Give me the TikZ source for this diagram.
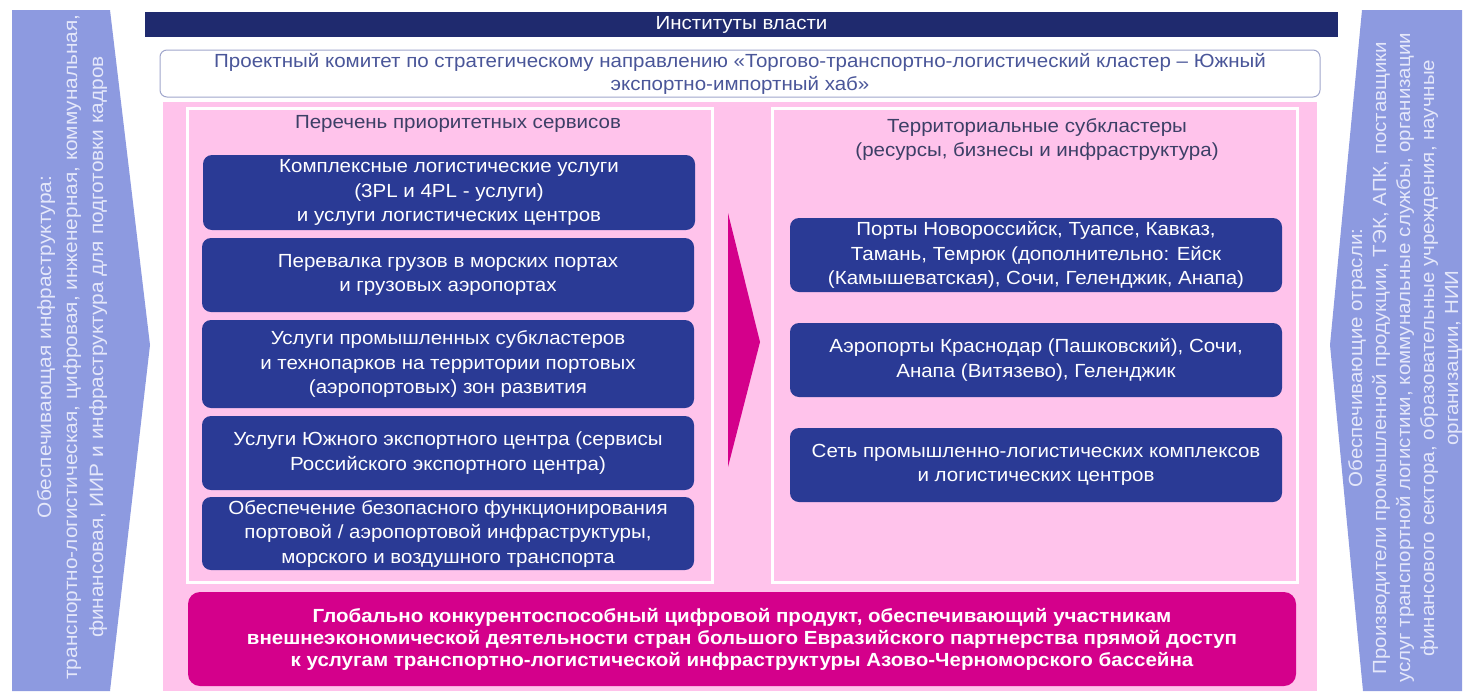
\documentclass[tikz,border=0pt]{standalone}
\usepackage{fontspec}
\setmainfont[FakeStretch=1.08]{Liberation Sans}
\definecolor{navy}{HTML}{1F2A6E}
\definecolor{boxblue}{HTML}{2A3A95}
\definecolor{side}{HTML}{8D9AE0}
\definecolor{sidetext}{HTML}{E4E7FA}
\definecolor{pinkbg}{HTML}{FFC3EB}
\definecolor{magentabox}{HTML}{D4008B}
\definecolor{titletext}{HTML}{3C3F66}
\definecolor{comtext}{HTML}{4A5699}
\definecolor{comborder}{HTML}{A0A6CC}
\tikzset{
  svcbox/.style={fill=boxblue, rounded corners=9pt, text=white, align=center,
    minimum width=492pt, inner sep=0pt, font=\fontsize{19}{24.5}\selectfont},
  subbox/.style={svcbox},
  paneltitle/.style={text=titletext, align=center, font=\fontsize{19}{24}\selectfont},
  sidetxt/.style={text=sidetext, align=center, rotate=90},
  innerpanel/.style={draw=white, line width=3pt, fill=pinkbg}
}
\begin{document}
\begin{tikzpicture}[x=1pt,y=-1pt]
\useasboundingbox (0,0) rectangle (1465,691);
\fill[white] (0,0) rectangle (1465,691);
% side panels
\fill[side] (12,10) -- (110,10) -- (150,345) -- (110,691) -- (12,691) -- cycle;
\fill[side] (1362,10) -- (1462,10) -- (1462,691) -- (1363,691) -- (1330,345) -- cycle;
\node[sidetxt, font=\fontsize{19.3}{26}\selectfont] (lefttxt) at (72,347)
  {Обеспечивающая инфраструктура:\\
   транспортно-логистическая, цифровая, инженерная, коммунальная,\\
   финансовая, ИИР и инфраструктура для подготовки кадров};
\node[sidetxt, font=\fontsize{19}{24}\selectfont] (righttxt) at (1405,358)
  {Обеспечивающие отрасли:\\
   Производители промышленной продукции, ТЭК, АПК, поставщики\\
   услуг транспортной логистики, коммунальные службы, организации\\
   финансового сектора, образовательные учреждения, научные\\
   организации, НИИ};
% header
\node[fill=navy, minimum width=1193pt, minimum height=25pt, inner sep=0pt,
  text=white, font=\fontsize{19}{20}\selectfont] (inst) at (741.5,24.5) {Институты власти};
% committee
\node[draw=comborder, line width=1pt, fill=white, rounded corners=7pt,
  minimum width=1160pt, minimum height=47pt, inner sep=0pt, align=center,
  text=comtext, font=\fontsize{19}{23}\selectfont] (committee) at (740,73.5)
  {Проектный комитет по стратегическому направлению «Торгово-транспортно-логистический кластер – Южный\\
   экспортно-импортный хаб»};
% pink background
\fill[pinkbg] (163,102) rectangle (1317,691);
\node[innerpanel, minimum width=525pt, minimum height=474pt, inner sep=0pt] (leftpanel) at (449.5,345) {};
\node[innerpanel, minimum width=525pt, minimum height=474pt, inner sep=0pt] (rightpanel) at (1034.5,345) {};
\node[paneltitle] (lefttitle) at (458,124) {Перечень приоритетных сервисов};
\node[paneltitle] (righttitle) at (1037,140) {Территориальные субкластеры\\(ресурсы, бизнесы и инфраструктура)};
% arrow
\fill[magentabox] (728,213) -- (760,342) -- (728,467) -- cycle;
% left boxes
\node[svcbox, minimum height=75pt] (s1) at (449,192.5)
  {Комплексные логистические услуги\\(3PL и 4PL - услуги)\\и услуги логистических центров};
\node[svcbox, minimum height=74pt] (s2) at (448,275)
  {Перевалка грузов в морских портах\\и грузовых аэропортах};
\node[svcbox, minimum height=88pt] (s3) at (448,364)
  {Услуги промышленных субкластеров\\и технопарков на территории портовых\\(аэропортовых) зон развития};
\node[svcbox, minimum height=74pt] (s4) at (448,453)
  {Услуги Южного экспортного центра (сервисы\\Российского экспортного центра)};
\node[svcbox, minimum height=73pt] (s5) at (448,533.5)
  {Обеспечение безопасного функционирования\\портовой / аэропортовой инфраструктуры,\\морского и воздушного транспорта};
% right boxes
\node[subbox, minimum height=74pt] (r1) at (1036,255)
  {Порты Новороссийск, Туапсе, Кавказ,\\Тамань, Темрюк (дополнительно: Ейск\\(Камышеватская), Сочи, Геленджик, Анапа)};
\node[subbox, minimum height=74pt] (r2) at (1036,360)
  {Аэропорты Краснодар (Пашковский), Сочи,\\Анапа (Витязево), Геленджик};
\node[subbox, minimum height=74pt] (r3) at (1036,465)
  {Сеть промышленно-логистических комплексов\\и логистических центров};
% bottom
\node[fill=magentabox, rounded corners=12pt, minimum width=1108pt, minimum height=94pt,
  inner sep=0pt, text=white, align=center,
  font=\fontsize{19}{22}\selectfont\bfseries] (product) at (742,639)
  {Глобально конкурентоспособный цифровой продукт, обеспечивающий участникам\\
   внешнеэкономической деятельности стран большого Евразийского партнерства прямой доступ\\
   к услугам транспортно-логистической инфраструктуры Азово-Черноморского бассейна};
\end{tikzpicture}
\end{document}
